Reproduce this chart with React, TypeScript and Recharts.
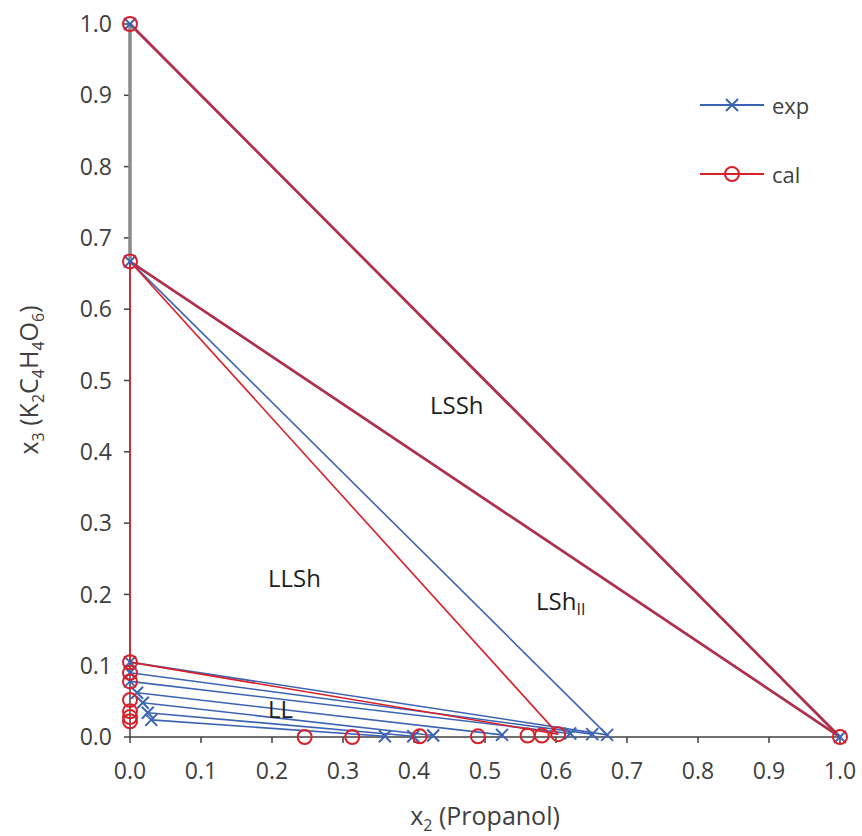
import React from 'react'
import { ScatterChart, Scatter, XAxis, YAxis } from 'recharts'

// axis ticks (mole fractions)
const axisTicks = [0, 0.1, 0.2, 0.3, 0.4, 0.5, 0.6, 0.7, 0.8, 0.9, 1.0]

// invariant points shared by exp and cal: salt, hydrate, pure propanol
const saltPoint = { x: 0, y: 1.0 }
const hydratePoint = { x: 0, y: 0.667 }
const propanolPoint = { x: 1.0, y: 0 }

// experimental LL tie lines (aqueous end -> organic end)
const expLeftX = [0, 0, 0, 0.01, 0.018, 0.025, 0.03]
const expLeftY = [0.105, 0.09, 0.078, 0.062, 0.048, 0.034, 0.024]
const expRightX = [0.672, 0.651, 0.62, 0.524, 0.427, 0.399, 0.359]
const expRightY = [0.003, 0.004, 0.005, 0.003, 0.002, 0.001, 0.001]

// calculated LL points
const calLeftX = [0, 0, 0, 0, 0, 0, 0]
const calLeftY = [0.105, 0.09, 0.078, 0.052, 0.036, 0.028, 0.022]
const calRightX = [0.603, 0.58, 0.56, 0.49, 0.408, 0.313, 0.246]
const calRightY = [0.004, 0.002, 0.002, 0.001, 0.001, 0, 0]

const BLUE = '#3D64B4'
const RED = '#D8202A'
const FONT = '"Open Sans", sans-serif'

const expLeft = expLeftX.map((x, i) => ({ x, y: expLeftY[i] }))
const expRight = expRightX.map((x, i) => ({ x, y: expRightY[i] }))
const calLeft = calLeftX.map((x, i) => ({ x, y: calLeftY[i] }))
const calRight = calRightX.map((x, i) => ({ x, y: calRightY[i] }))

// line segments
const expSegments = [
  [saltPoint, propanolPoint],
  [hydratePoint, propanolPoint],
  [hydratePoint, expRight[0]],
  ...expLeft.map((p, i) => [p, expRight[i]]),
]
const calSegments = [
  [saltPoint, propanolPoint],
  [hydratePoint, propanolPoint],
  [hydratePoint, calRight[0]],
  [hydratePoint, calLeft[0]],
  [calLeft[0], calRight[0]],
]
const saltHydrateSegment = [saltPoint, hydratePoint]

const expMarkers = [saltPoint, hydratePoint, propanolPoint, ...expLeft, ...expRight]
const calMarkers = [saltPoint, hydratePoint, propanolPoint, ...calLeft, ...calRight]

const NoShape = () => <g />

const CrossMark = (p: any) => (
  <g stroke={BLUE} strokeWidth={2}>
    <line x1={p.cx - 6} y1={p.cy - 6} x2={p.cx + 6} y2={p.cy + 6} />
    <line x1={p.cx - 6} y1={p.cy + 6} x2={p.cx + 6} y2={p.cy - 6} />
  </g>
)

const CircleMark = (p: any) => (
  <circle cx={p.cx} cy={p.cy} r={7} fill="none" stroke={RED} strokeWidth={2} />
)

const isThick = (i: number) => i < 2

function LegendRow({ label, color, marker }: { label: string; color: string; marker: 'x' | 'o' }) {
  return (
    <div style={{ display: 'flex', alignItems: 'center', height: 30 }}>
      <svg width={66} height={20}>
        <line x1={0} y1={10} x2={64} y2={10} stroke={color} strokeWidth={2} />
        {marker === 'x' ? (
          <g stroke={color} strokeWidth={2}>
            <line x1={26} y1={4} x2={38} y2={16} />
            <line x1={26} y1={16} x2={38} y2={4} />
          </g>
        ) : (
          <circle cx={32} cy={10} r={7} fill="none" stroke={color} strokeWidth={2} />
        )}
      </svg>
      <span style={{ marginLeft: 6, fontSize: 22, color: '#404040', fontFamily: FONT }}>{label}</span>
    </div>
  )
}

const regionText: React.CSSProperties = {
  position: 'absolute',
  fontFamily: FONT,
  fontSize: 24,
  color: '#1e1e1e',
  lineHeight: 1,
  whiteSpace: 'nowrap',
}

const sub: React.CSSProperties = { fontSize: 16 }

export default function App() {
  return (
    <div style={{ position: 'absolute', left: 0, top: 0, width: 862, height: 836, background: '#fff' }}>
      <ScatterChart width={862} height={836} margin={{ top: 24, right: 22, bottom: 39, left: 70 }}>
        <XAxis
          type="number"
          dataKey="x"
          domain={[0, 1]}
          ticks={axisTicks}
          tickFormatter={(v: number) => v.toFixed(1)}
          axisLine={{ stroke: '#404040', strokeWidth: 1.5 }}
          tickLine={{ stroke: '#404040', strokeWidth: 1.5 }}
          tickSize={6}
          tickMargin={20}
          tick={{ fontSize: 23, fill: '#404040', fontFamily: FONT }}
          height={60}
        />
        <YAxis
          type="number"
          dataKey="y"
          domain={[0, 1]}
          ticks={axisTicks}
          tickFormatter={(v: number) => v.toFixed(1)}
          axisLine={{ stroke: '#404040', strokeWidth: 1.5 }}
          tickLine={{ stroke: '#404040', strokeWidth: 1.5 }}
          tickSize={6}
          tickMargin={12}
          tick={{ fontSize: 23, fill: '#404040', fontFamily: FONT }}
          width={60}
        />
        <Scatter
          data={saltHydrateSegment}
          line={{ stroke: '#8a8a8a', strokeWidth: 3.5 }}
          shape={NoShape}
          isAnimationActive={false}
        />
        {expSegments.map((seg, i) => (
          <Scatter
            key={`e${i}`}
            data={seg}
            line={{ stroke: BLUE, strokeWidth: isThick(i) ? 2.5 : 1.6 }}
            shape={NoShape}
            isAnimationActive={false}
          />
        ))}
        {calSegments.map((seg, i) => (
          <Scatter
            key={`c${i}`}
            data={seg}
            line={{ stroke: RED, strokeWidth: isThick(i) ? 2.5 : 1.6, strokeOpacity: isThick(i) ? 0.8 : 1 }}
            shape={NoShape}
            isAnimationActive={false}
          />
        ))}
        <Scatter data={expMarkers} shape={CrossMark} isAnimationActive={false} />
        <Scatter data={calMarkers} shape={CircleMark} isAnimationActive={false} />
      </ScatterChart>

      {/* legend */}
      <div style={{ position: 'absolute', left: 700, top: 90 }}>
        <LegendRow label="exp" color={BLUE} marker="x" />
      </div>
      <div style={{ position: 'absolute', left: 700, top: 159 }}>
        <LegendRow label="cal" color={RED} marker="o" />
      </div>

      {/* region labels */}
      <div style={{ ...regionText, left: 430, top: 393 }}>LSSh</div>
      <div style={{ ...regionText, left: 268, top: 566 }}>LLSh</div>
      <div style={{ ...regionText, left: 536, top: 589 }}>
        LSh<span style={{ fontSize: 16, position: 'relative', top: 5 }}>II</span>
      </div>
      <div style={{ ...regionText, left: 268, top: 697 }}>LL</div>

      {/* axis titles */}
      <div
        style={{
          position: 'absolute',
          left: 130,
          width: 710,
          top: 798,
          textAlign: 'center',
          fontFamily: FONT,
          fontSize: 25,
          color: '#404040',
        }}
      >
        x<sub style={sub}>2</sub> (Propanol)
      </div>
      <div
        style={{
          position: 'absolute',
          left: 30,
          top: 380,
          transform: 'translate(-50%, -50%) rotate(-90deg)',
          whiteSpace: 'nowrap',
          fontFamily: FONT,
          fontSize: 25,
          color: '#404040',
        }}
      >
        x<sub style={sub}>3</sub> (K<sub style={sub}>2</sub>C<sub style={sub}>4</sub>H<sub style={sub}>4</sub>O
        <sub style={sub}>6</sub>)
      </div>
    </div>
  )
}
